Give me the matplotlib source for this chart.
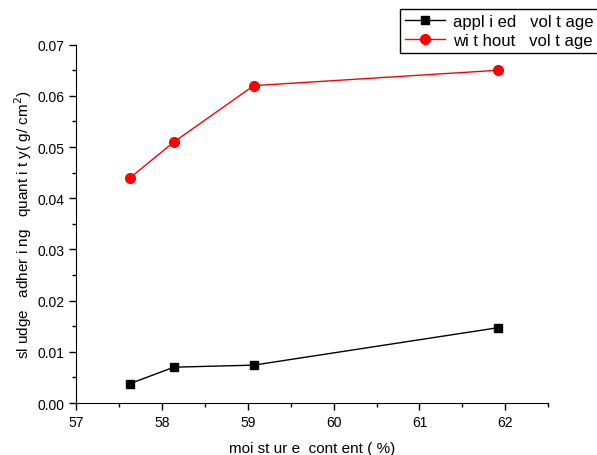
import matplotlib
matplotlib.use("Agg")
import matplotlib.pyplot as plt
from matplotlib.ticker import MultipleLocator

plt.rcParams['font.family'] = ['Liberation Sans', 'DejaVu Sans']

# moisture content (%) and sludge adhering quantity (g/cm2)
moisture = [57.63, 58.14, 59.07, 61.91]
applied = [0.0038, 0.0070, 0.0074, 0.0147]
without = [0.044, 0.051, 0.062, 0.065]

fig = plt.figure(figsize=(5.97, 4.56), dpi=100)
ax = fig.add_axes([0.1273, 0.114, 0.7911, 0.7858])

ax.plot(moisture, applied, color='black', lw=1, marker='s', ms=6,
        label='appl i ed   vol t age')
ax.plot(moisture, without, color='red', lw=1, marker='o', ms=7,
        label='wi t hout   vol t age')

ax.set_xlim(57, 62.5)
ax.set_ylim(0, 0.07)
ax.xaxis.set_major_locator(MultipleLocator(1))
ax.xaxis.set_minor_locator(MultipleLocator(0.5))
ax.yaxis.set_major_locator(MultipleLocator(0.01))
ax.yaxis.set_minor_locator(MultipleLocator(0.005))
ax.yaxis.set_major_formatter(matplotlib.ticker.FormatStrFormatter('%.2f'))

for s in ['top', 'right']:
    ax.spines[s].set_visible(False)
ax.tick_params(which='major', direction='out', length=5, width=1, labelsize=10)
ax.tick_params(which='minor', direction='out', length=3, width=1)

ax.set_xlabel('moi st ur e  cont ent ( %)', fontsize=11, labelpad=9)
ax.set_ylabel('sl udge   adher i ng   quant i t y( g/ cm$^2$)', fontsize=11, labelpad=2)

leg = fig.legend(loc='upper left', bbox_to_anchor=(400 / 597, 1 - 10 / 456),
                 fontsize=12, handlelength=2.4, handletextpad=0.5,
                 borderaxespad=0, fancybox=False, edgecolor='black',
                 framealpha=1, borderpad=0.3, labelspacing=0.25)
leg.get_frame().set_linewidth(1)

fig.savefig('out.png', dpi=100)
